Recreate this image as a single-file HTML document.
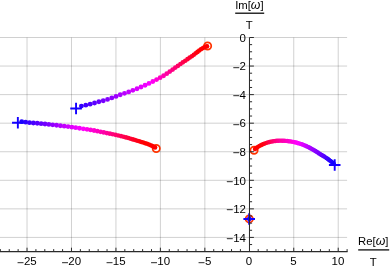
<!DOCTYPE html>
<html lang="en"><head><meta charset="utf-8"><title>Plot</title>
<style>
html,body{margin:0;padding:0;background:#fff;}
body{width:390px;height:269px;overflow:hidden;}
svg{display:block;}
text{font-family:"Liberation Sans",Arial,sans-serif;fill:#000;}
</style></head><body>
<svg width="390" height="269" viewBox="0 0 390 269">
<rect width="390" height="269" fill="#fff"/>
<g stroke="#000" stroke-opacity="0.185" stroke-width="1" fill="none">
<line x1="27.03" y1="37.5" x2="27.03" y2="251.7"/>
<line x1="71.48" y1="37.5" x2="71.48" y2="251.7"/>
<line x1="115.94" y1="37.5" x2="115.94" y2="251.7"/>
<line x1="160.39" y1="37.5" x2="160.39" y2="251.7"/>
<line x1="204.85" y1="37.5" x2="204.85" y2="251.7"/>
<line x1="249.3" y1="37.5" x2="249.3" y2="251.7"/>
<line x1="293.75" y1="37.5" x2="293.75" y2="251.7"/>
<line x1="338.21" y1="37.5" x2="338.21" y2="251.7"/>
<line x1="0" y1="237.42" x2="347.1" y2="237.42"/>
<line x1="0" y1="208.86" x2="347.1" y2="208.86"/>
<line x1="0" y1="180.3" x2="347.1" y2="180.3"/>
<line x1="0" y1="151.74" x2="347.1" y2="151.74"/>
<line x1="0" y1="123.18" x2="347.1" y2="123.18"/>
<line x1="0" y1="94.62" x2="347.1" y2="94.62"/>
<line x1="0" y1="66.06" x2="347.1" y2="66.06"/>
<line x1="0" y1="37.5" x2="347.1" y2="37.5"/>
</g>
<g font-size="11.5" text-anchor="middle">
<text x="26.73" y="265.35"><tspan font-size="12.2" dy="1.35">−</tspan><tspan dy="-1.35">25</tspan></text>
<text x="71.18" y="265.35"><tspan font-size="12.2" dy="1.35">−</tspan><tspan dy="-1.35">20</tspan></text>
<text x="115.64" y="265.35"><tspan font-size="12.2" dy="1.35">−</tspan><tspan dy="-1.35">15</tspan></text>
<text x="160.09" y="265.35"><tspan font-size="12.2" dy="1.35">−</tspan><tspan dy="-1.35">10</tspan></text>
<text x="204.55" y="265.35"><tspan font-size="12.2" dy="1.35">−</tspan><tspan dy="-1.35">5</tspan></text>
<text x="249" y="265.35">0</text>
<text x="293.45" y="265.35">5</text>
<text x="337.91" y="265.35">10</text>
</g>
<g font-size="11.5" text-anchor="end">
<text x="246" y="241.62"><tspan font-size="12.2" dy="1.35">−</tspan><tspan dy="-1.35">14</tspan></text>
<text x="246" y="213.06"><tspan font-size="12.2" dy="1.35">−</tspan><tspan dy="-1.35">12</tspan></text>
<text x="246" y="184.5"><tspan font-size="12.2" dy="1.35">−</tspan><tspan dy="-1.35">10</tspan></text>
<text x="246" y="155.94"><tspan font-size="12.2" dy="1.35">−</tspan><tspan dy="-1.35">8</tspan></text>
<text x="246" y="127.38"><tspan font-size="12.2" dy="1.35">−</tspan><tspan dy="-1.35">6</tspan></text>
<text x="246" y="98.82"><tspan font-size="12.2" dy="1.35">−</tspan><tspan dy="-1.35">4</tspan></text>
<text x="246" y="70.26"><tspan font-size="12.2" dy="1.35">−</tspan><tspan dy="-1.35">2</tspan></text>
<text x="246" y="41.7">0</text>
</g>
<g font-size="11.3" text-anchor="middle">
<text x="249.35" y="9.2">Im[<tspan font-style="italic" font-size="12.3">ω</tspan>]</text>
<text x="249.15" y="29">T</text>
<text x="373.25" y="245.3">Re[<tspan font-style="italic" font-size="12.3">ω</tspan>]</text>
<text x="373.3" y="265.6">T</text>
</g>
<g stroke="#000" stroke-width="1.25">
<line x1="235.2" y1="13.2" x2="264.2" y2="13.2"/>
<line x1="358.2" y1="249.9" x2="389.2" y2="249.9"/>
</g>
<circle cx="207.6" cy="46.05" r="3.65" stroke="#ff3300" stroke-width="1.75" fill="none"/>
<circle cx="156.25" cy="148.5" r="3.65" stroke="#ff3300" stroke-width="1.75" fill="none"/>
<circle cx="254.05" cy="150.2" r="3.65" stroke="#ff3300" stroke-width="1.75" fill="none"/>
<circle cx="249.25" cy="218.9" r="3.65" stroke="#ff3300" stroke-width="1.75" fill="none"/>
<g stroke="none">
<circle cx="81.4" cy="106.1" r="2.45" fill="#3400ff"/><circle cx="85.8" cy="105.17" r="2.45" fill="#4200ff"/><circle cx="90.18" cy="104.13" r="2.45" fill="#4f00ff"/><circle cx="94.54" cy="103.02" r="2.45" fill="#5c00ff"/><circle cx="98.88" cy="101.81" r="2.45" fill="#6a00ff"/><circle cx="103.24" cy="100.7" r="2.45" fill="#7700ff"/><circle cx="107.54" cy="99.39" r="2.45" fill="#8400ff"/><circle cx="111.79" cy="97.92" r="2.45" fill="#9100ff"/><circle cx="116.02" cy="96.38" r="2.45" fill="#9e00ff"/><circle cx="120.24" cy="94.81" r="2.45" fill="#ab00ff"/><circle cx="124.48" cy="93.34" r="2.45" fill="#b800ff"/><circle cx="128.7" cy="91.89" r="2.45" fill="#c400ff"/><circle cx="132.86" cy="90.34" r="2.45" fill="#d100ff"/><circle cx="137.02" cy="88.78" r="2.45" fill="#db00ff"/><circle cx="141.03" cy="86.97" r="2.45" fill="#e400ff"/><circle cx="145.07" cy="85.24" r="2.45" fill="#ee00ff"/><circle cx="148.99" cy="83.4" r="2.45" fill="#f700ff"/><circle cx="152.85" cy="81.52" r="2.45" fill="#ff00f1"/><circle cx="156.6" cy="79.61" r="2.45" fill="#ff00d8"/><circle cx="160.16" cy="77.68" r="2.44" fill="#ff00c1"/><circle cx="163.56" cy="75.78" r="2.43" fill="#ff00b0"/><circle cx="166.73" cy="73.68" r="2.42" fill="#ff009f"/><circle cx="169.77" cy="71.57" r="2.4" fill="#ff0090"/><circle cx="172.64" cy="69.53" r="2.38" fill="#ff0081"/><circle cx="175.33" cy="67.59" r="2.37" fill="#ff0074"/><circle cx="177.95" cy="65.77" r="2.36" fill="#ff0067"/><circle cx="180.46" cy="64.03" r="2.34" fill="#ff005b"/><circle cx="182.88" cy="62.37" r="2.34" fill="#ff004f"/><circle cx="185.26" cy="60.78" r="2.33" fill="#ff0043"/><circle cx="187.52" cy="59.15" r="2.32" fill="#ff003a"/><circle cx="189.72" cy="57.62" r="2.31" fill="#ff0031"/><circle cx="191.83" cy="56.18" r="2.3" fill="#ff0028"/><circle cx="193.81" cy="54.71" r="2.29" fill="#ff0020"/><circle cx="195.67" cy="53.27" r="2.28" fill="#ff0016"/><circle cx="197.48" cy="51.89" r="2.27" fill="#ff000d"/><circle cx="199.24" cy="50.57" r="2.26" fill="#ff0004"/><circle cx="200.95" cy="49.3" r="2.26" fill="#ff0000"/><circle cx="202.64" cy="48.13" r="2.25" fill="#ff0000"/><circle cx="204.36" cy="47.17" r="2.24" fill="#ff0000"/><circle cx="206.15" cy="46.52" r="2.23" fill="#ff0000"/><circle cx="207.1" cy="46.32" r="2.2" fill="#ff0000"/>
<circle cx="21.75" cy="121.65" r="2.44" fill="#1f00ff"/><circle cx="25.62" cy="122.16" r="2.44" fill="#2d00ff"/><circle cx="29.48" cy="122.63" r="2.44" fill="#3a00ff"/><circle cx="33.36" cy="122.94" r="2.44" fill="#4800ff"/><circle cx="37.24" cy="123.24" r="2.44" fill="#5600ff"/><circle cx="41.11" cy="123.65" r="2.44" fill="#6400ff"/><circle cx="44.97" cy="124.04" r="2.44" fill="#7100ff"/><circle cx="48.83" cy="124.43" r="2.44" fill="#7f00ff"/><circle cx="52.69" cy="124.83" r="2.44" fill="#9100ff"/><circle cx="56.54" cy="125.24" r="2.44" fill="#a200ff"/><circle cx="60.38" cy="125.73" r="2.44" fill="#b400ff"/><circle cx="64.22" cy="126.13" r="2.44" fill="#c300ff"/><circle cx="68.05" cy="126.62" r="2.44" fill="#d100ff"/><circle cx="71.87" cy="127.17" r="2.44" fill="#e000ff"/><circle cx="75.7" cy="127.66" r="2.44" fill="#eb00ff"/><circle cx="79.51" cy="128.26" r="2.44" fill="#f500ff"/><circle cx="83.31" cy="128.83" r="2.42" fill="#ff00fe"/><circle cx="87.02" cy="129.35" r="2.41" fill="#ff00ed"/><circle cx="90.59" cy="129.89" r="2.4" fill="#ff00dd"/><circle cx="94.04" cy="130.49" r="2.39" fill="#ff00cf"/><circle cx="97.37" cy="131.15" r="2.38" fill="#ff00c3"/><circle cx="100.62" cy="131.83" r="2.37" fill="#ff00b7"/><circle cx="103.79" cy="132.48" r="2.37" fill="#ff00a9"/><circle cx="106.88" cy="133.09" r="2.36" fill="#ff009a"/><circle cx="109.88" cy="133.68" r="2.35" fill="#ff008a"/><circle cx="112.77" cy="134.26" r="2.34" fill="#ff007c"/><circle cx="115.59" cy="134.86" r="2.33" fill="#ff0070"/><circle cx="118.33" cy="135.48" r="2.32" fill="#ff0066"/><circle cx="120.98" cy="136.11" r="2.31" fill="#ff005c"/><circle cx="123.54" cy="136.75" r="2.3" fill="#ff0052"/><circle cx="126" cy="137.4" r="2.3" fill="#ff0048"/><circle cx="128.38" cy="138.06" r="2.29" fill="#ff003f"/><circle cx="130.69" cy="138.72" r="2.28" fill="#ff0035"/><circle cx="132.92" cy="139.38" r="2.28" fill="#ff002c"/><circle cx="135.08" cy="140.04" r="2.27" fill="#ff0023"/><circle cx="137.19" cy="140.68" r="2.27" fill="#ff001b"/><circle cx="139.25" cy="141.32" r="2.26" fill="#ff0012"/><circle cx="141.27" cy="141.94" r="2.26" fill="#ff000b"/><circle cx="143.26" cy="142.56" r="2.25" fill="#ff0005"/><circle cx="145.2" cy="143.18" r="2.25" fill="#ff0000"/><circle cx="147.09" cy="143.82" r="2.25" fill="#ff0000"/><circle cx="148.93" cy="144.51" r="2.24" fill="#ff0000"/><circle cx="150.71" cy="145.24" r="2.24" fill="#ff0000"/><circle cx="152.42" cy="146.04" r="2.24" fill="#ff0000"/><circle cx="154.07" cy="146.91" r="2.23" fill="#ff0000"/><circle cx="155.15" cy="147.55" r="2.2" fill="#ff0000"/>
<circle cx="333.75" cy="163.75" r="2.2" fill="#0200ff"/><circle cx="332.62" cy="162.77" r="2.2" fill="#0b00ff"/><circle cx="331.47" cy="161.8" r="2.2" fill="#1300ff"/><circle cx="330.3" cy="160.86" r="2.2" fill="#1c00ff"/><circle cx="329.12" cy="159.94" r="2.2" fill="#2500ff"/><circle cx="327.91" cy="159.04" r="2.2" fill="#2f00ff"/><circle cx="326.69" cy="158.17" r="2.2" fill="#3800ff"/><circle cx="325.45" cy="157.33" r="2.2" fill="#4100ff"/><circle cx="324.19" cy="156.52" r="2.2" fill="#4b00ff"/><circle cx="322.91" cy="155.73" r="2.2" fill="#5400ff"/><circle cx="321.62" cy="154.96" r="2.2" fill="#5d00ff"/><circle cx="320.34" cy="154.18" r="2.2" fill="#6500ff"/><circle cx="319.07" cy="153.38" r="2.2" fill="#6d00ff"/><circle cx="317.82" cy="152.56" r="2.2" fill="#7400ff"/><circle cx="316.56" cy="151.74" r="2.2" fill="#7c00ff"/><circle cx="315.3" cy="150.93" r="2.2" fill="#8400ff"/><circle cx="314.01" cy="150.16" r="2.2" fill="#8c00ff"/><circle cx="312.71" cy="149.42" r="2.2" fill="#9400ff"/><circle cx="311.39" cy="148.7" r="2.2" fill="#9c00ff"/><circle cx="310.06" cy="148" r="2.2" fill="#a500ff"/><circle cx="308.73" cy="147.31" r="2.2" fill="#ae00ff"/><circle cx="307.39" cy="146.64" r="2.2" fill="#b800ff"/><circle cx="306.03" cy="145.99" r="2.2" fill="#c200ff"/><circle cx="304.66" cy="145.39" r="2.2" fill="#ca00ff"/><circle cx="303.27" cy="144.83" r="2.2" fill="#d300ff"/><circle cx="301.86" cy="144.32" r="2.2" fill="#db00ff"/><circle cx="300.44" cy="143.83" r="2.2" fill="#e400ff"/><circle cx="299.01" cy="143.38" r="2.2" fill="#ed00ff"/><circle cx="297.57" cy="142.95" r="2.2" fill="#f500ff"/><circle cx="296.12" cy="142.56" r="2.2" fill="#fe00ff"/><circle cx="294.66" cy="142.2" r="2.2" fill="#ff00f7"/><circle cx="293.2" cy="141.89" r="2.2" fill="#ff00ef"/><circle cx="291.72" cy="141.62" r="2.2" fill="#ff00e6"/><circle cx="290.24" cy="141.39" r="2.2" fill="#ff00dd"/><circle cx="288.75" cy="141.19" r="2.2" fill="#ff00d5"/><circle cx="287.26" cy="141.01" r="2.2" fill="#ff00cd"/><circle cx="285.77" cy="140.87" r="2.2" fill="#ff00c6"/><circle cx="284.27" cy="140.76" r="2.2" fill="#ff00be"/><circle cx="282.77" cy="140.68" r="2.2" fill="#ff00b6"/><circle cx="281.27" cy="140.63" r="2.2" fill="#ff00af"/><circle cx="279.77" cy="140.63" r="2.2" fill="#ff00a7"/><circle cx="278.27" cy="140.68" r="2.2" fill="#ff009e"/><circle cx="276.78" cy="140.79" r="2.2" fill="#ff0093"/><circle cx="275.28" cy="140.94" r="2.2" fill="#ff0089"/><circle cx="273.8" cy="141.14" r="2.2" fill="#ff007e"/><circle cx="272.31" cy="141.39" r="2.2" fill="#ff0073"/><circle cx="270.84" cy="141.67" r="2.2" fill="#ff0067"/><circle cx="269.38" cy="142.01" r="2.2" fill="#ff005c"/><circle cx="267.93" cy="142.4" r="2.2" fill="#ff0051"/><circle cx="266.5" cy="142.85" r="2.2" fill="#ff0041"/><circle cx="265.08" cy="143.34" r="2.2" fill="#ff0031"/><circle cx="263.68" cy="143.89" r="2.2" fill="#ff0021"/><circle cx="262.31" cy="144.5" r="2.2" fill="#ff0016"/><circle cx="260.95" cy="145.15" r="2.2" fill="#ff000f"/><circle cx="259.63" cy="145.86" r="2.2" fill="#ff0008"/><circle cx="258.34" cy="146.62" r="2.2" fill="#ff0002"/><circle cx="257.08" cy="147.44" r="2.2" fill="#ff0000"/><circle cx="255.87" cy="148.32" r="2.2" fill="#ff0000"/><circle cx="254.95" cy="149.05" r="2.2" fill="#ff0000"/>
<circle cx="249.25" cy="218.9" r="2.4" fill="#3000ff"/>
</g>
<path d="M70.25 108.55H81.85M76.05 102.75V114.35" stroke="#1400ff" stroke-width="1.9" fill="none"/>
<path d="M12.05 122.8H23.65M17.85 117V128.6" stroke="#1400ff" stroke-width="1.9" fill="none"/>
<path d="M328.9 165.05H340.5M334.7 159.25V170.85" stroke="#1400ff" stroke-width="1.9" fill="none"/>
<path d="M243.4 218.95H255M249.2 213.15V224.75" stroke="#1400ff" stroke-width="1.9" fill="none"/>
<g stroke="#2b2b2b" stroke-width="1" fill="none">
<line x1="0" y1="251.7" x2="347.6" y2="251.7" stroke-width="1.2"/>
<line x1="249.5" y1="37.5" x2="249.5" y2="251.7"/>
<line x1="0.35" y1="251.7" x2="0.35" y2="249.1"/>
<line x1="9.24" y1="251.7" x2="9.24" y2="249.1"/>
<line x1="18.13" y1="251.7" x2="18.13" y2="249.1"/>
<line x1="27.03" y1="251.7" x2="27.03" y2="247.7"/>
<line x1="35.92" y1="251.7" x2="35.92" y2="249.1"/>
<line x1="44.81" y1="251.7" x2="44.81" y2="249.1"/>
<line x1="53.7" y1="251.7" x2="53.7" y2="249.1"/>
<line x1="62.59" y1="251.7" x2="62.59" y2="249.1"/>
<line x1="71.48" y1="251.7" x2="71.48" y2="247.7"/>
<line x1="80.37" y1="251.7" x2="80.37" y2="249.1"/>
<line x1="89.26" y1="251.7" x2="89.26" y2="249.1"/>
<line x1="98.15" y1="251.7" x2="98.15" y2="249.1"/>
<line x1="107.04" y1="251.7" x2="107.04" y2="249.1"/>
<line x1="115.94" y1="251.7" x2="115.94" y2="247.7"/>
<line x1="124.83" y1="251.7" x2="124.83" y2="249.1"/>
<line x1="133.72" y1="251.7" x2="133.72" y2="249.1"/>
<line x1="142.61" y1="251.7" x2="142.61" y2="249.1"/>
<line x1="151.5" y1="251.7" x2="151.5" y2="249.1"/>
<line x1="160.39" y1="251.7" x2="160.39" y2="247.7"/>
<line x1="169.28" y1="251.7" x2="169.28" y2="249.1"/>
<line x1="178.17" y1="251.7" x2="178.17" y2="249.1"/>
<line x1="187.06" y1="251.7" x2="187.06" y2="249.1"/>
<line x1="195.95" y1="251.7" x2="195.95" y2="249.1"/>
<line x1="204.85" y1="251.7" x2="204.85" y2="247.7"/>
<line x1="213.74" y1="251.7" x2="213.74" y2="249.1"/>
<line x1="222.63" y1="251.7" x2="222.63" y2="249.1"/>
<line x1="231.52" y1="251.7" x2="231.52" y2="249.1"/>
<line x1="240.41" y1="251.7" x2="240.41" y2="249.1"/>
<line x1="258.19" y1="251.7" x2="258.19" y2="249.1"/>
<line x1="267.08" y1="251.7" x2="267.08" y2="249.1"/>
<line x1="275.97" y1="251.7" x2="275.97" y2="249.1"/>
<line x1="284.86" y1="251.7" x2="284.86" y2="249.1"/>
<line x1="293.75" y1="251.7" x2="293.75" y2="247.7"/>
<line x1="302.65" y1="251.7" x2="302.65" y2="249.1"/>
<line x1="311.54" y1="251.7" x2="311.54" y2="249.1"/>
<line x1="320.43" y1="251.7" x2="320.43" y2="249.1"/>
<line x1="329.32" y1="251.7" x2="329.32" y2="249.1"/>
<line x1="338.21" y1="251.7" x2="338.21" y2="247.7"/>
<line x1="347.1" y1="251.7" x2="347.1" y2="249.1"/>
<line x1="249.5" y1="37.5" x2="253.9" y2="37.5"/>
<line x1="249.5" y1="44.64" x2="252.1" y2="44.64"/>
<line x1="249.5" y1="51.78" x2="252.1" y2="51.78"/>
<line x1="249.5" y1="58.92" x2="252.1" y2="58.92"/>
<line x1="249.5" y1="66.06" x2="253.9" y2="66.06"/>
<line x1="249.5" y1="73.2" x2="252.1" y2="73.2"/>
<line x1="249.5" y1="80.34" x2="252.1" y2="80.34"/>
<line x1="249.5" y1="87.48" x2="252.1" y2="87.48"/>
<line x1="249.5" y1="94.62" x2="253.9" y2="94.62"/>
<line x1="249.5" y1="101.76" x2="252.1" y2="101.76"/>
<line x1="249.5" y1="108.9" x2="252.1" y2="108.9"/>
<line x1="249.5" y1="116.04" x2="252.1" y2="116.04"/>
<line x1="249.5" y1="123.18" x2="253.9" y2="123.18"/>
<line x1="249.5" y1="130.32" x2="252.1" y2="130.32"/>
<line x1="249.5" y1="137.46" x2="252.1" y2="137.46"/>
<line x1="249.5" y1="144.6" x2="252.1" y2="144.6"/>
<line x1="249.5" y1="151.74" x2="253.9" y2="151.74"/>
<line x1="249.5" y1="158.88" x2="252.1" y2="158.88"/>
<line x1="249.5" y1="166.02" x2="252.1" y2="166.02"/>
<line x1="249.5" y1="173.16" x2="252.1" y2="173.16"/>
<line x1="249.5" y1="180.3" x2="253.9" y2="180.3"/>
<line x1="249.5" y1="187.44" x2="252.1" y2="187.44"/>
<line x1="249.5" y1="194.58" x2="252.1" y2="194.58"/>
<line x1="249.5" y1="201.72" x2="252.1" y2="201.72"/>
<line x1="249.5" y1="208.86" x2="253.9" y2="208.86"/>
<line x1="249.5" y1="216" x2="252.1" y2="216"/>
<line x1="249.5" y1="223.14" x2="252.1" y2="223.14"/>
<line x1="249.5" y1="230.28" x2="252.1" y2="230.28"/>
<line x1="249.5" y1="237.42" x2="253.9" y2="237.42"/>
<line x1="249.5" y1="244.56" x2="252.1" y2="244.56"/>
</g>
</svg>
</body></html>
